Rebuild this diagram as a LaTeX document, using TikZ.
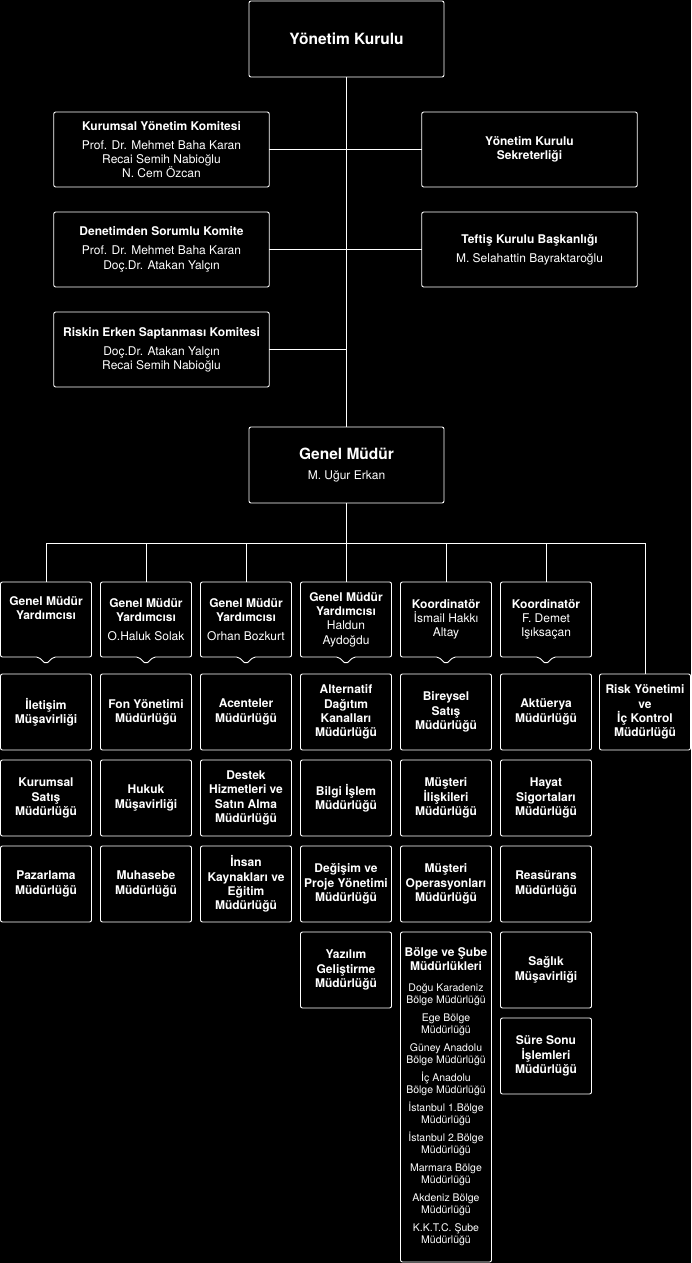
\documentclass[tikz,border=0pt]{standalone}
\usepackage{fontspec}
\setmainfont{TeX Gyre Heros}
\usepackage{tikz}
\usetikzlibrary{positioning,calc}
\definecolor{ink}{HTML}{FFFFFF}
\definecolor{bg}{HTML}{000000}

\begin{document}
\begin{tikzpicture}[x=1pt,y=1pt,
  box/.style={draw=ink,line width=0.9pt,rounded corners=2pt,text=ink,align=center,inner sep=1pt,outer sep=0pt,font=\fontsize{12}{14.3}\selectfont},
  board/.style={box,minimum width=195pt,minimum height=76pt},
  cmte/.style={box,minimum width=215.5pt,minimum height=75pt},
  mgr/.style={box,draw=none,minimum width=91pt,minimum height=75pt,font=\bfseries\fontsize{12}{14.3}\selectfont},
  dept/.style={box,minimum width=91pt,minimum height=76pt,font=\bfseries\fontsize{12}{14.3}\selectfont},
  wire/.style={draw=ink,line width=0.9pt}
]
  \fill[bg] (0,0) rectangle (691,-1263);
  \useasboundingbox (0,0) rectangle (691,-1263);

  % board and committees
  \node[board] (yk) at (346.5,-39) {\bfseries\fontsize{15.5}{18}\selectfont Yönetim Kurulu};
  \node[cmte] (kyk) at (161.5,-149.5) {\textbf{Kurumsal Yönetim Komitesi}\\[4.7pt]Prof. Dr. Mehmet Baha Karan\\Recai Semih Nabioğlu\\N. Cem Özcan};
  \node[cmte,below=25pt of kyk] (dsk) {\textbf{Denetimden Sorumlu Komite}\\[4.7pt]Prof. Dr. Mehmet Baha Karan\\Doç.Dr. Atakan Yalçın};
  \node[cmte,below=25pt of dsk] (rek) {\textbf{Riskin Erken Saptanması Komitesi}\\[4.7pt]Doç.Dr. Atakan Yalçın\\Recai Semih Nabioğlu};
  \node[cmte] (yks) at (529.5,-149.5) {\textbf{Yönetim Kurulu}\\\textbf{Sekreterliği}};
  \node[cmte,below=25pt of yks] (tkb) {\textbf{Teftiş Kurulu Başkanlığı}\\[4.7pt]M. Selahattin Bayraktaroğlu};

  % general manager
  \node[board] (gm) at (346.5,-465) {\textbf{\fontsize{15.5}{18}\selectfont Genel Müdür}\\[6.5pt]M. Uğur Erkan};

  % managers
  \node[mgr] (gmy1) at (46,-619.5) {Genel Müdür\\Yardımcısı\\[4.4pt]\strut};
  \node[mgr,right=9pt of gmy1] (gmy2) {Genel Müdür\\Yardımcısı\\[4.4pt]\mdseries O.Haluk Solak};
  \node[mgr,right=9pt of gmy2] (gmy3) {Genel Müdür\\Yardımcısı\\[4.4pt]\mdseries Orhan Bozkurt};
  \node[mgr,right=9pt of gmy3] (gmy4) {Genel Müdür\\Yardımcısı\\\mdseries Haldun\\\mdseries Aydoğdu};
  \node[mgr,right=9pt of gmy4] (koo1) {Koordinatör\\\mdseries İsmail Hakkı\\\mdseries Altay};
  \node[mgr,right=9pt of koo1] (koo2) {Koordinatör\\\mdseries F. Demet\\\mdseries Işıksaçan};
  \node[dept] (rsk) at (645,-712) {Risk Yönetimi\\ve\\İç Kontrol\\Müdürlüğü};

  % departments
  \node[dept,below=17pt of gmy1] (ilt) {İletişim\\Müşavirliği};
  \node[dept,below=10pt of ilt] (kst) {Kurumsal\\Satış\\Müdürlüğü};
  \node[dept,below=10pt of kst] (paz) {Pazarlama\\Müdürlüğü};

  \node[dept,below=17pt of gmy2] (fon) {Fon Yönetimi\\Müdürlüğü};
  \node[dept,below=10pt of fon] (hkk) {Hukuk\\Müşavirliği};
  \node[dept,below=10pt of hkk] (muh) {Muhasebe\\Müdürlüğü};

  \node[dept,below=17pt of gmy3] (acn) {Acenteler\\Müdürlüğü};
  \node[dept,below=10pt of acn] (dst) {Destek\\Hizmetleri ve\\Satın Alma\\Müdürlüğü};
  \node[dept,below=10pt of dst] (ikd) {İnsan\\Kaynakları ve\\Eğitim\\Müdürlüğü};

  \node[dept,below=17pt of gmy4] (adk) {Alternatif\\Dağıtım\\Kanalları\\Müdürlüğü};
  \node[dept,below=10pt of adk] (bil) {Bilgi İşlem\\Müdürlüğü};
  \node[dept,below=10pt of bil] (dpy) {Değişim ve\\Proje Yönetimi\\Müdürlüğü};
  \node[dept,below=10pt of dpy] (yzl) {Yazılım\\Geliştirme\\Müdürlüğü};

  \node[dept,below=17pt of koo1] (bst) {Bireysel\\Satış\\Müdürlüğü};
  \node[dept,below=10pt of bst] (mil) {Müşteri\\İlişkileri\\Müdürlüğü};
  \node[dept,below=10pt of mil] (mop) {Müşteri\\Operasyonları\\Müdürlüğü};
  \node[box,minimum width=91pt,minimum height=330pt,font=\fontsize{10.5}{12}\selectfont,below=10pt of mop] (bsm)
    {\textbf{\fontsize{12}{14.3}\selectfont Bölge ve Şube}\\[2.3pt]\textbf{\fontsize{12}{14.3}\selectfont Müdürlükleri}\\[9pt]
     Doğu Karadeniz\\Bölge Müdürlüğü\\[6pt]
     Ege Bölge\\Müdürlüğü\\[6pt]
     Güney Anadolu\\Bölge Müdürlüğü\\[6pt]
     İç Anadolu\\Bölge Müdürlüğü\\[6pt]
     İstanbul 1.Bölge\\Müdürlüğü\\[6pt]
     İstanbul 2.Bölge\\Müdürlüğü\\[6pt]
     Marmara Bölge\\Müdürlüğü\\[6pt]
     Akdeniz Bölge\\Müdürlüğü\\[6pt]
     K.K.T.C. Şube\\Müdürlüğü};

  \node[dept,below=17pt of koo2] (akt) {Aktüerya\\Müdürlüğü};
  \node[dept,below=10pt of akt] (hyt) {Hayat\\Sigortaları\\Müdürlüğü};
  \node[dept,below=10pt of hyt] (rea) {Reasürans\\Müdürlüğü};
  \node[dept,below=10pt of rea] (sgl) {Sağlık\\Müşavirliği};
  \node[dept,below=10pt of sgl] (sso) {Süre Sonu\\İşlemleri\\Müdürlüğü};

  % manager boxes with pointer
  \foreach \m in {gmy1,gmy2,gmy3,gmy4,koo1,koo2}
    \draw[wire,rounded corners=2pt] (\m.north west) -- (\m.north east) -- (\m.south east)
      -- ([xshift=7.5pt]\m.south) -- ([yshift=-7pt]\m.south) -- ([xshift=-7.5pt]\m.south)
      -- (\m.south west) -- cycle;

  % connectors
  \draw[wire] (yk) -- (gm);
  \draw[wire] (kyk) -- (yks);
  \draw[wire] (dsk) -- (tkb);
  \draw[wire] (rek.east) -- (rek.east -| yk.south);
  \coordinate (bus) at ($(gm.south)+(0,-40)$);
  \draw[wire] (gm.south) -- (bus);
  \draw[wire] (gmy1.north |- bus) -- (rsk.north |- bus);
  \foreach \m in {gmy1,gmy2,gmy3,gmy4,koo1,koo2,rsk}
    \draw[wire] (\m.north |- bus) -- (\m.north);
\end{tikzpicture}
\end{document}
